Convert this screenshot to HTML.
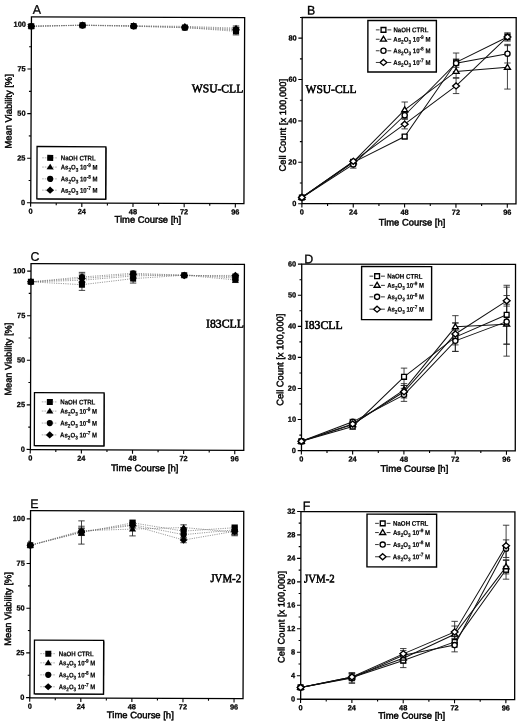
<!DOCTYPE html>
<html lang="en">
<head>
<meta charset="utf-8">
<title>Figure</title>
<style>
html,body{margin:0;padding:0;background:#fff;}
body{width:520px;height:725px;overflow:hidden;}
svg{display:block;filter:blur(0.3px);}
</style>
</head>
<body>
<svg width="520" height="725" viewBox="0 0 520 725">
<rect x="0" y="0" width="520" height="725" fill="#fff"/>
<g transform="rotate(0.22 137.7 110.25)">
<rect x="31.1" y="17.2" width="213.2" height="186.1" fill="none" stroke="#000" stroke-width="1.3"/>
<line x1="31" y1="203.3" x2="31" y2="207.1" stroke="#000" stroke-width="1.1"/>
<text x="31" y="214.2" text-anchor="middle" font-family='"Liberation Sans", sans-serif' font-size="7.4" font-weight="bold" fill="#000" stroke="#000" stroke-width="0.25">0</text>
<line x1="56.59" y1="203.3" x2="56.59" y2="205.5" stroke="#000" stroke-width="1.1"/>
<line x1="82.17" y1="203.3" x2="82.17" y2="207.1" stroke="#000" stroke-width="1.1"/>
<text x="82.17" y="214.2" text-anchor="middle" font-family='"Liberation Sans", sans-serif' font-size="7.4" font-weight="bold" fill="#000" stroke="#000" stroke-width="0.25">24</text>
<line x1="107.76" y1="203.3" x2="107.76" y2="205.5" stroke="#000" stroke-width="1.1"/>
<line x1="133.35" y1="203.3" x2="133.35" y2="207.1" stroke="#000" stroke-width="1.1"/>
<text x="133.35" y="214.2" text-anchor="middle" font-family='"Liberation Sans", sans-serif' font-size="7.4" font-weight="bold" fill="#000" stroke="#000" stroke-width="0.25">48</text>
<line x1="158.94" y1="203.3" x2="158.94" y2="205.5" stroke="#000" stroke-width="1.1"/>
<line x1="184.53" y1="203.3" x2="184.53" y2="207.1" stroke="#000" stroke-width="1.1"/>
<text x="184.53" y="214.2" text-anchor="middle" font-family='"Liberation Sans", sans-serif' font-size="7.4" font-weight="bold" fill="#000" stroke="#000" stroke-width="0.25">72</text>
<line x1="210.11" y1="203.3" x2="210.11" y2="205.5" stroke="#000" stroke-width="1.1"/>
<line x1="235.7" y1="203.3" x2="235.7" y2="207.1" stroke="#000" stroke-width="1.1"/>
<text x="235.7" y="214.2" text-anchor="middle" font-family='"Liberation Sans", sans-serif' font-size="7.4" font-weight="bold" fill="#000" stroke="#000" stroke-width="0.25">96</text>
<line x1="27.3" y1="203.2" x2="31.1" y2="203.2" stroke="#000" stroke-width="1.1"/>
<text x="25.6" y="205.45" text-anchor="end" font-family='"Liberation Sans", sans-serif' font-size="7.4" font-weight="bold" fill="#000" stroke="#000" stroke-width="0.25">0</text>
<line x1="28.9" y1="180.91" x2="31.1" y2="180.91" stroke="#000" stroke-width="1.1"/>
<line x1="27.3" y1="158.62" x2="31.1" y2="158.62" stroke="#000" stroke-width="1.1"/>
<text x="25.6" y="160.88" text-anchor="end" font-family='"Liberation Sans", sans-serif' font-size="7.4" font-weight="bold" fill="#000" stroke="#000" stroke-width="0.25">25</text>
<line x1="28.9" y1="136.34" x2="31.1" y2="136.34" stroke="#000" stroke-width="1.1"/>
<line x1="27.3" y1="114.05" x2="31.1" y2="114.05" stroke="#000" stroke-width="1.1"/>
<text x="25.6" y="116.3" text-anchor="end" font-family='"Liberation Sans", sans-serif' font-size="7.4" font-weight="bold" fill="#000" stroke="#000" stroke-width="0.25">50</text>
<line x1="28.9" y1="91.76" x2="31.1" y2="91.76" stroke="#000" stroke-width="1.1"/>
<line x1="27.3" y1="69.47" x2="31.1" y2="69.47" stroke="#000" stroke-width="1.1"/>
<text x="25.6" y="71.72" text-anchor="end" font-family='"Liberation Sans", sans-serif' font-size="7.4" font-weight="bold" fill="#000" stroke="#000" stroke-width="0.25">75</text>
<line x1="28.9" y1="47.19" x2="31.1" y2="47.19" stroke="#000" stroke-width="1.1"/>
<line x1="27.3" y1="24.9" x2="31.1" y2="24.9" stroke="#000" stroke-width="1.1"/>
<text x="25.6" y="27.15" text-anchor="end" font-family='"Liberation Sans", sans-serif' font-size="7.4" font-weight="bold" fill="#000" stroke="#000" stroke-width="0.25">100</text>
<text x="115" y="222.7" textLength="66.6" lengthAdjust="spacingAndGlyphs" font-family='"Liberation Sans", sans-serif' font-size="9.4" fill="#000" stroke="#000" stroke-width="0.45">Time Course [h]</text>
<text transform="translate(11.7,149) rotate(-90)" textLength="74.3" lengthAdjust="spacingAndGlyphs" font-family='"Liberation Sans", sans-serif' font-size="9.4" fill="#000" stroke="#000" stroke-width="0.45">Mean Viability [%]</text>
<text x="32.4" y="14.2" font-family='"Liberation Sans", sans-serif' font-size="12.4" fill="#000" stroke="#000" stroke-width="0.3">A</text>
<text x="191.7" y="92.1" textLength="51.5" lengthAdjust="spacingAndGlyphs" font-family='"Liberation Serif", serif' font-size="11.8" fill="#000" stroke="#000" stroke-width="0.55" stroke-linejoin="round">WSU-CLL</text>
<polyline points="31,26.68 82.17,25.43 133.35,26.15 184.53,27.4 235.7,30.96" fill="none" stroke="#707070" stroke-width="0.75" stroke-dasharray="1.1 1.2"/>
<polyline points="31,26.68 82.17,25.26 133.35,25.79 184.53,26.15 235.7,27.75" fill="none" stroke="#707070" stroke-width="0.75" stroke-dasharray="1.1 1.2"/>
<polyline points="31,26.68 82.17,25.61 133.35,26.33 184.53,27.57 235.7,29.71" fill="none" stroke="#707070" stroke-width="0.75" stroke-dasharray="1.1 1.2"/>
<polyline points="31,26.68 82.17,25.43 133.35,25.97 184.53,26.86 235.7,28.82" fill="none" stroke="#707070" stroke-width="0.75" stroke-dasharray="1.1 1.2"/>
<path d="M235.7 27.4V34.53M232.5 27.4H238.9M232.5 34.53H238.9" fill="none" stroke="#222" stroke-width="0.85"/>
<path d="M235.7 25.61V29.89M232.5 25.61H238.9M232.5 29.89H238.9" fill="none" stroke="#222" stroke-width="0.85"/>
<path d="M235.7 27.04V32.39M232.5 27.04H238.9M232.5 32.39H238.9" fill="none" stroke="#222" stroke-width="0.85"/>
<path d="M235.7 27.04V30.61M232.5 27.04H238.9M232.5 30.61H238.9" fill="none" stroke="#222" stroke-width="0.85"/>
<rect x="28" y="23.68" width="6" height="6" fill="#000" stroke="#000" stroke-width="0"/>
<rect x="79.17" y="22.43" width="6" height="6" fill="#000" stroke="#000" stroke-width="0"/>
<rect x="130.35" y="23.15" width="6" height="6" fill="#000" stroke="#000" stroke-width="0"/>
<rect x="181.53" y="24.4" width="6" height="6" fill="#000" stroke="#000" stroke-width="0"/>
<rect x="232.7" y="27.96" width="6" height="6" fill="#000" stroke="#000" stroke-width="0"/>
<polygon points="31,23.38 34.6,28.98 27.4,28.98" fill="#000" stroke="#000" stroke-width="0"/>
<polygon points="82.17,21.96 85.77,27.56 78.58,27.56" fill="#000" stroke="#000" stroke-width="0"/>
<polygon points="133.35,22.49 136.95,28.09 129.75,28.09" fill="#000" stroke="#000" stroke-width="0"/>
<polygon points="184.53,22.85 188.12,28.45 180.93,28.45" fill="#000" stroke="#000" stroke-width="0"/>
<polygon points="235.7,24.45 239.3,30.05 232.1,30.05" fill="#000" stroke="#000" stroke-width="0"/>
<circle cx="31" cy="26.68" r="3.1" fill="#000" stroke="#000" stroke-width="0"/>
<circle cx="82.17" cy="25.61" r="3.1" fill="#000" stroke="#000" stroke-width="0"/>
<circle cx="133.35" cy="26.33" r="3.1" fill="#000" stroke="#000" stroke-width="0"/>
<circle cx="184.53" cy="27.57" r="3.1" fill="#000" stroke="#000" stroke-width="0"/>
<circle cx="235.7" cy="29.71" r="3.1" fill="#000" stroke="#000" stroke-width="0"/>
<polygon points="31,23.08 34.9,26.68 31,30.28 27.1,26.68" fill="#000" stroke="#000" stroke-width="0"/>
<polygon points="82.17,21.83 86.08,25.43 82.17,29.03 78.27,25.43" fill="#000" stroke="#000" stroke-width="0"/>
<polygon points="133.35,22.37 137.25,25.97 133.35,29.57 129.45,25.97" fill="#000" stroke="#000" stroke-width="0"/>
<polygon points="184.53,23.26 188.43,26.86 184.53,30.46 180.62,26.86" fill="#000" stroke="#000" stroke-width="0"/>
<polygon points="235.7,25.22 239.6,28.82 235.7,32.42 231.8,28.82" fill="#000" stroke="#000" stroke-width="0"/>
<rect x="37.9" y="147.6" width="68.8" height="52.3" fill="#000"/>
<rect x="37.2" y="146.9" width="68.8" height="52.3" fill="#fff" stroke="#000" stroke-width="1.3"/>
<line x1="42.4" y1="158.2" x2="57.9" y2="158.2" stroke="#999" stroke-width="0.8" stroke-dasharray="1.6 1"/>
<rect x="47.4" y="155.2" width="6" height="6" fill="#000" stroke="#000" stroke-width="0"/>
<text x="61" y="160.65" textLength="34.9" lengthAdjust="spacingAndGlyphs" font-family='"Liberation Sans", sans-serif' font-size="6.8" font-weight="bold" fill="#000" stroke="#000" stroke-width="0.15">NaOH CTRL</text>
<line x1="42.4" y1="167.4" x2="57.9" y2="167.4" stroke="#999" stroke-width="0.8" stroke-dasharray="1.6 1"/>
<polygon points="50.4,164.1 54,169.7 46.8,169.7" fill="#000" stroke="#000" stroke-width="0"/>
<text x="61" y="169.85" textLength="36.8" lengthAdjust="spacingAndGlyphs" font-family='"Liberation Sans", sans-serif' font-size="6.8" font-weight="bold" fill="#000" stroke="#000" stroke-width="0.15">As<tspan font-size="5.3" dy="2.04">2</tspan><tspan dy="-2.04">O</tspan><tspan font-size="5.3" dy="2.04">3</tspan><tspan dy="-2.04"> 10</tspan><tspan font-size="5.3" dy="-2.72">-9</tspan><tspan dy="2.72"> M</tspan></text>
<line x1="42.4" y1="179.2" x2="57.9" y2="179.2" stroke="#999" stroke-width="0.8" stroke-dasharray="1.6 1"/>
<circle cx="50.4" cy="179.2" r="3.1" fill="#000" stroke="#000" stroke-width="0"/>
<text x="61" y="181.65" textLength="36.8" lengthAdjust="spacingAndGlyphs" font-family='"Liberation Sans", sans-serif' font-size="6.8" font-weight="bold" fill="#000" stroke="#000" stroke-width="0.15">As<tspan font-size="5.3" dy="2.04">2</tspan><tspan dy="-2.04">O</tspan><tspan font-size="5.3" dy="2.04">3</tspan><tspan dy="-2.04"> 10</tspan><tspan font-size="5.3" dy="-2.72">-8</tspan><tspan dy="2.72"> M</tspan></text>
<line x1="42.4" y1="190.5" x2="57.9" y2="190.5" stroke="#999" stroke-width="0.8" stroke-dasharray="1.6 1"/>
<polygon points="50.4,186.9 54.3,190.5 50.4,194.1 46.5,190.5" fill="#000" stroke="#000" stroke-width="0"/>
<text x="61" y="192.95" textLength="36.8" lengthAdjust="spacingAndGlyphs" font-family='"Liberation Sans", sans-serif' font-size="6.8" font-weight="bold" fill="#000" stroke="#000" stroke-width="0.15">As<tspan font-size="5.3" dy="2.04">2</tspan><tspan dy="-2.04">O</tspan><tspan font-size="5.3" dy="2.04">3</tspan><tspan dy="-2.04"> 10</tspan><tspan font-size="5.3" dy="-2.72">-7</tspan><tspan dy="2.72"> M</tspan></text>
</g>
<g transform="rotate(0.06 409.1 110.7)">
<rect x="302.1" y="17.6" width="214" height="186.2" fill="none" stroke="#000" stroke-width="1.3"/>
<line x1="302" y1="203.8" x2="302" y2="207.6" stroke="#000" stroke-width="1.1"/>
<text x="302" y="214.7" text-anchor="middle" font-family='"Liberation Sans", sans-serif' font-size="7.4" font-weight="bold" fill="#000" stroke="#000" stroke-width="0.25">0</text>
<line x1="327.68" y1="203.8" x2="327.68" y2="206" stroke="#000" stroke-width="1.1"/>
<line x1="353.35" y1="203.8" x2="353.35" y2="207.6" stroke="#000" stroke-width="1.1"/>
<text x="353.35" y="214.7" text-anchor="middle" font-family='"Liberation Sans", sans-serif' font-size="7.4" font-weight="bold" fill="#000" stroke="#000" stroke-width="0.25">24</text>
<line x1="379.02" y1="203.8" x2="379.02" y2="206" stroke="#000" stroke-width="1.1"/>
<line x1="404.7" y1="203.8" x2="404.7" y2="207.6" stroke="#000" stroke-width="1.1"/>
<text x="404.7" y="214.7" text-anchor="middle" font-family='"Liberation Sans", sans-serif' font-size="7.4" font-weight="bold" fill="#000" stroke="#000" stroke-width="0.25">48</text>
<line x1="430.38" y1="203.8" x2="430.38" y2="206" stroke="#000" stroke-width="1.1"/>
<line x1="456.05" y1="203.8" x2="456.05" y2="207.6" stroke="#000" stroke-width="1.1"/>
<text x="456.05" y="214.7" text-anchor="middle" font-family='"Liberation Sans", sans-serif' font-size="7.4" font-weight="bold" fill="#000" stroke="#000" stroke-width="0.25">72</text>
<line x1="481.72" y1="203.8" x2="481.72" y2="206" stroke="#000" stroke-width="1.1"/>
<line x1="507.4" y1="203.8" x2="507.4" y2="207.6" stroke="#000" stroke-width="1.1"/>
<text x="507.4" y="214.7" text-anchor="middle" font-family='"Liberation Sans", sans-serif' font-size="7.4" font-weight="bold" fill="#000" stroke="#000" stroke-width="0.25">96</text>
<line x1="298.3" y1="203.8" x2="302.1" y2="203.8" stroke="#000" stroke-width="1.1"/>
<text x="296.6" y="206.05" text-anchor="end" font-family='"Liberation Sans", sans-serif' font-size="7.4" font-weight="bold" fill="#000" stroke="#000" stroke-width="0.25">0</text>
<line x1="299.9" y1="183.11" x2="302.1" y2="183.11" stroke="#000" stroke-width="1.1"/>
<line x1="298.3" y1="162.42" x2="302.1" y2="162.42" stroke="#000" stroke-width="1.1"/>
<text x="296.6" y="164.67" text-anchor="end" font-family='"Liberation Sans", sans-serif' font-size="7.4" font-weight="bold" fill="#000" stroke="#000" stroke-width="0.25">20</text>
<line x1="299.9" y1="141.73" x2="302.1" y2="141.73" stroke="#000" stroke-width="1.1"/>
<line x1="298.3" y1="121.04" x2="302.1" y2="121.04" stroke="#000" stroke-width="1.1"/>
<text x="296.6" y="123.29" text-anchor="end" font-family='"Liberation Sans", sans-serif' font-size="7.4" font-weight="bold" fill="#000" stroke="#000" stroke-width="0.25">40</text>
<line x1="299.9" y1="100.35" x2="302.1" y2="100.35" stroke="#000" stroke-width="1.1"/>
<line x1="298.3" y1="79.66" x2="302.1" y2="79.66" stroke="#000" stroke-width="1.1"/>
<text x="296.6" y="81.91" text-anchor="end" font-family='"Liberation Sans", sans-serif' font-size="7.4" font-weight="bold" fill="#000" stroke="#000" stroke-width="0.25">60</text>
<line x1="299.9" y1="58.97" x2="302.1" y2="58.97" stroke="#000" stroke-width="1.1"/>
<line x1="298.3" y1="38.28" x2="302.1" y2="38.28" stroke="#000" stroke-width="1.1"/>
<text x="296.6" y="40.53" text-anchor="end" font-family='"Liberation Sans", sans-serif' font-size="7.4" font-weight="bold" fill="#000" stroke="#000" stroke-width="0.25">80</text>
<line x1="299.9" y1="17.59" x2="302.1" y2="17.59" stroke="#000" stroke-width="1.1"/>
<text x="378.9" y="225.6" textLength="66.5" lengthAdjust="spacingAndGlyphs" font-family='"Liberation Sans", sans-serif' font-size="9.4" fill="#000" stroke="#000" stroke-width="0.45">Time Course [h]</text>
<text transform="translate(285.9,171.6) rotate(-90)" textLength="92.6" lengthAdjust="spacingAndGlyphs" font-family='"Liberation Sans", sans-serif' font-size="9.4" fill="#000" stroke="#000" stroke-width="0.45">Cell Count [x 100,000]</text>
<text x="306.8" y="14.6" font-family='"Liberation Sans", sans-serif' font-size="12.4" fill="#000" stroke="#000" stroke-width="0.3">B</text>
<text x="305.6" y="93" textLength="51" lengthAdjust="spacingAndGlyphs" font-family='"Liberation Serif", serif' font-size="11.8" fill="#000" stroke="#000" stroke-width="0.55" stroke-linejoin="round">WSU-CLL</text>
<polyline points="302,197.59 353.35,162.42 404.7,136.56 456.05,62.28 507.4,36.83" fill="none" stroke="#111" stroke-width="1.0"/>
<polyline points="302,197.59 353.35,161.8 404.7,109.87 456.05,71.38 507.4,67.25" fill="none" stroke="#111" stroke-width="1.0"/>
<polyline points="302,197.59 353.35,164.49 404.7,115.25 456.05,63.11 507.4,53.59" fill="none" stroke="#111" stroke-width="1.0"/>
<polyline points="302,197.59 353.35,161.39 404.7,124.14 456.05,85.87 507.4,36.83" fill="none" stroke="#111" stroke-width="1.0"/>
<path d="M353.35 159.94V164.9M350.15 159.94H356.55M350.15 164.9H356.55" fill="none" stroke="#222" stroke-width="0.85"/>
<path d="M404.7 134.9V138.21M401.5 134.9H407.9M401.5 138.21H407.9" fill="none" stroke="#222" stroke-width="0.85"/>
<path d="M456.05 52.97V71.59M452.85 52.97H459.25M452.85 71.59H459.25" fill="none" stroke="#222" stroke-width="0.85"/>
<path d="M507.4 32.69V40.97M504.2 32.69H510.6M504.2 40.97H510.6" fill="none" stroke="#222" stroke-width="0.85"/>
<path d="M353.35 159.73V163.87M350.15 159.73H356.55M350.15 163.87H356.55" fill="none" stroke="#222" stroke-width="0.85"/>
<path d="M404.7 102.01V117.73M401.5 102.01H407.9M401.5 117.73H407.9" fill="none" stroke="#222" stroke-width="0.85"/>
<path d="M456.05 65.18V77.59M452.85 65.18H459.25M452.85 77.59H459.25" fill="none" stroke="#222" stroke-width="0.85"/>
<path d="M507.4 45.52V88.97M504.2 45.52H510.6M504.2 88.97H510.6" fill="none" stroke="#222" stroke-width="0.85"/>
<path d="M353.35 160.76V168.21M350.15 160.76H356.55M350.15 168.21H356.55" fill="none" stroke="#222" stroke-width="0.85"/>
<path d="M404.7 112.14V118.35M401.5 112.14H407.9M401.5 118.35H407.9" fill="none" stroke="#222" stroke-width="0.85"/>
<path d="M456.05 58.97V67.25M452.85 58.97H459.25M452.85 67.25H459.25" fill="none" stroke="#222" stroke-width="0.85"/>
<path d="M507.4 44.28V62.9M504.2 44.28H510.6M504.2 62.9H510.6" fill="none" stroke="#222" stroke-width="0.85"/>
<path d="M353.35 159.32V163.45M350.15 159.32H356.55M350.15 163.45H356.55" fill="none" stroke="#222" stroke-width="0.85"/>
<path d="M404.7 119.38V128.9M401.5 119.38H407.9M401.5 128.9H407.9" fill="none" stroke="#222" stroke-width="0.85"/>
<path d="M456.05 78.21V93.52M452.85 78.21H459.25M452.85 93.52H459.25" fill="none" stroke="#222" stroke-width="0.85"/>
<path d="M507.4 33.73V39.94M504.2 33.73H510.6M504.2 39.94H510.6" fill="none" stroke="#222" stroke-width="0.85"/>
<rect x="299.6" y="195.19" width="4.8" height="4.8" fill="#fff" stroke="#000" stroke-width="1.35"/>
<rect x="350.95" y="160.02" width="4.8" height="4.8" fill="#fff" stroke="#000" stroke-width="1.35"/>
<rect x="402.3" y="134.16" width="4.8" height="4.8" fill="#fff" stroke="#000" stroke-width="1.35"/>
<rect x="453.65" y="59.88" width="4.8" height="4.8" fill="#fff" stroke="#000" stroke-width="1.35"/>
<rect x="505" y="34.43" width="4.8" height="4.8" fill="#fff" stroke="#000" stroke-width="1.35"/>
<polygon points="302,194.59 305,199.49 299,199.49" fill="#fff" stroke="#000" stroke-width="1.35"/>
<polygon points="353.35,158.8 356.35,163.7 350.35,163.7" fill="#fff" stroke="#000" stroke-width="1.35"/>
<polygon points="404.7,106.87 407.7,111.77 401.7,111.77" fill="#fff" stroke="#000" stroke-width="1.35"/>
<polygon points="456.05,68.38 459.05,73.28 453.05,73.28" fill="#fff" stroke="#000" stroke-width="1.35"/>
<polygon points="507.4,64.25 510.4,69.15 504.4,69.15" fill="#fff" stroke="#000" stroke-width="1.35"/>
<circle cx="302" cy="197.59" r="2.6" fill="#fff" stroke="#000" stroke-width="1.35"/>
<circle cx="353.35" cy="164.49" r="2.6" fill="#fff" stroke="#000" stroke-width="1.35"/>
<circle cx="404.7" cy="115.25" r="2.6" fill="#fff" stroke="#000" stroke-width="1.35"/>
<circle cx="456.05" cy="63.11" r="2.6" fill="#fff" stroke="#000" stroke-width="1.35"/>
<circle cx="507.4" cy="53.59" r="2.6" fill="#fff" stroke="#000" stroke-width="1.35"/>
<polygon points="302,194.59 305.4,197.59 302,200.59 298.6,197.59" fill="#fff" stroke="#000" stroke-width="1.35"/>
<polygon points="353.35,158.39 356.75,161.39 353.35,164.39 349.95,161.39" fill="#fff" stroke="#000" stroke-width="1.35"/>
<polygon points="404.7,121.14 408.1,124.14 404.7,127.14 401.3,124.14" fill="#fff" stroke="#000" stroke-width="1.35"/>
<polygon points="456.05,82.87 459.45,85.87 456.05,88.87 452.65,85.87" fill="#fff" stroke="#000" stroke-width="1.35"/>
<polygon points="507.4,33.83 510.8,36.83 507.4,39.83 504,36.83" fill="#fff" stroke="#000" stroke-width="1.35"/>
<rect x="367.8" y="20.5" width="68.5" height="51.5" fill="#fff" stroke="#000" stroke-width="1.4"/>
<path d="M375.8 29.9H379.5M387.3 29.9H391.2" stroke="#222" stroke-width="0.9" fill="none"/>
<rect x="381" y="27.5" width="4.8" height="4.8" fill="#fff" stroke="#000" stroke-width="1.35"/>
<text x="393.3" y="32.35" textLength="35.1" lengthAdjust="spacingAndGlyphs" font-family='"Liberation Sans", sans-serif' font-size="6.8" font-weight="bold" fill="#000" stroke="#000" stroke-width="0.15">NaOH CTRL</text>
<path d="M375.8 39.3H379.5M387.3 39.3H391.2" stroke="#222" stroke-width="0.9" fill="none"/>
<polygon points="383.4,36.3 386.4,41.2 380.4,41.2" fill="#fff" stroke="#000" stroke-width="1.35"/>
<text x="393.3" y="41.75" textLength="37.1" lengthAdjust="spacingAndGlyphs" font-family='"Liberation Sans", sans-serif' font-size="6.8" font-weight="bold" fill="#000" stroke="#000" stroke-width="0.15">As<tspan font-size="5.3" dy="2.04">2</tspan><tspan dy="-2.04">O</tspan><tspan font-size="5.3" dy="2.04">3</tspan><tspan dy="-2.04"> 10</tspan><tspan font-size="5.3" dy="-2.72">-9</tspan><tspan dy="2.72"> M</tspan></text>
<path d="M375.8 50.8H379.5M387.3 50.8H391.2" stroke="#222" stroke-width="0.9" fill="none"/>
<circle cx="383.4" cy="50.8" r="2.6" fill="#fff" stroke="#000" stroke-width="1.35"/>
<text x="393.3" y="53.25" textLength="37.1" lengthAdjust="spacingAndGlyphs" font-family='"Liberation Sans", sans-serif' font-size="6.8" font-weight="bold" fill="#000" stroke="#000" stroke-width="0.15">As<tspan font-size="5.3" dy="2.04">2</tspan><tspan dy="-2.04">O</tspan><tspan font-size="5.3" dy="2.04">3</tspan><tspan dy="-2.04"> 10</tspan><tspan font-size="5.3" dy="-2.72">-8</tspan><tspan dy="2.72"> M</tspan></text>
<path d="M375.8 62.5H379.5M387.3 62.5H391.2" stroke="#222" stroke-width="0.9" fill="none"/>
<polygon points="383.4,59.5 386.8,62.5 383.4,65.5 380,62.5" fill="#fff" stroke="#000" stroke-width="1.35"/>
<text x="393.3" y="64.95" textLength="37.1" lengthAdjust="spacingAndGlyphs" font-family='"Liberation Sans", sans-serif' font-size="6.8" font-weight="bold" fill="#000" stroke="#000" stroke-width="0.15">As<tspan font-size="5.3" dy="2.04">2</tspan><tspan dy="-2.04">O</tspan><tspan font-size="5.3" dy="2.04">3</tspan><tspan dy="-2.04"> 10</tspan><tspan font-size="5.3" dy="-2.72">-7</tspan><tspan dy="2.72"> M</tspan></text>
</g>
<g transform="rotate(0.2 137.4 356.95)">
<rect x="30.7" y="263.9" width="213.4" height="186.1" fill="none" stroke="#000" stroke-width="1.3"/>
<line x1="30.6" y1="450" x2="30.6" y2="453.8" stroke="#000" stroke-width="1.1"/>
<text x="30.6" y="460.9" text-anchor="middle" font-family='"Liberation Sans", sans-serif' font-size="7.4" font-weight="bold" fill="#000" stroke="#000" stroke-width="0.25">0</text>
<line x1="56.16" y1="450" x2="56.16" y2="452.2" stroke="#000" stroke-width="1.1"/>
<line x1="81.72" y1="450" x2="81.72" y2="453.8" stroke="#000" stroke-width="1.1"/>
<text x="81.72" y="460.9" text-anchor="middle" font-family='"Liberation Sans", sans-serif' font-size="7.4" font-weight="bold" fill="#000" stroke="#000" stroke-width="0.25">24</text>
<line x1="107.29" y1="450" x2="107.29" y2="452.2" stroke="#000" stroke-width="1.1"/>
<line x1="132.85" y1="450" x2="132.85" y2="453.8" stroke="#000" stroke-width="1.1"/>
<text x="132.85" y="460.9" text-anchor="middle" font-family='"Liberation Sans", sans-serif' font-size="7.4" font-weight="bold" fill="#000" stroke="#000" stroke-width="0.25">48</text>
<line x1="158.41" y1="450" x2="158.41" y2="452.2" stroke="#000" stroke-width="1.1"/>
<line x1="183.97" y1="450" x2="183.97" y2="453.8" stroke="#000" stroke-width="1.1"/>
<text x="183.97" y="460.9" text-anchor="middle" font-family='"Liberation Sans", sans-serif' font-size="7.4" font-weight="bold" fill="#000" stroke="#000" stroke-width="0.25">72</text>
<line x1="209.54" y1="450" x2="209.54" y2="452.2" stroke="#000" stroke-width="1.1"/>
<line x1="235.1" y1="450" x2="235.1" y2="453.8" stroke="#000" stroke-width="1.1"/>
<text x="235.1" y="460.9" text-anchor="middle" font-family='"Liberation Sans", sans-serif' font-size="7.4" font-weight="bold" fill="#000" stroke="#000" stroke-width="0.25">96</text>
<line x1="26.9" y1="449.8" x2="30.7" y2="449.8" stroke="#000" stroke-width="1.1"/>
<text x="25.2" y="452.05" text-anchor="end" font-family='"Liberation Sans", sans-serif' font-size="7.4" font-weight="bold" fill="#000" stroke="#000" stroke-width="0.25">0</text>
<line x1="28.5" y1="427.51" x2="30.7" y2="427.51" stroke="#000" stroke-width="1.1"/>
<line x1="26.9" y1="405.23" x2="30.7" y2="405.23" stroke="#000" stroke-width="1.1"/>
<text x="25.2" y="407.48" text-anchor="end" font-family='"Liberation Sans", sans-serif' font-size="7.4" font-weight="bold" fill="#000" stroke="#000" stroke-width="0.25">25</text>
<line x1="28.5" y1="382.94" x2="30.7" y2="382.94" stroke="#000" stroke-width="1.1"/>
<line x1="26.9" y1="360.65" x2="30.7" y2="360.65" stroke="#000" stroke-width="1.1"/>
<text x="25.2" y="362.9" text-anchor="end" font-family='"Liberation Sans", sans-serif' font-size="7.4" font-weight="bold" fill="#000" stroke="#000" stroke-width="0.25">50</text>
<line x1="28.5" y1="338.36" x2="30.7" y2="338.36" stroke="#000" stroke-width="1.1"/>
<line x1="26.9" y1="316.08" x2="30.7" y2="316.08" stroke="#000" stroke-width="1.1"/>
<text x="25.2" y="318.33" text-anchor="end" font-family='"Liberation Sans", sans-serif' font-size="7.4" font-weight="bold" fill="#000" stroke="#000" stroke-width="0.25">75</text>
<line x1="28.5" y1="293.79" x2="30.7" y2="293.79" stroke="#000" stroke-width="1.1"/>
<line x1="26.9" y1="271.5" x2="30.7" y2="271.5" stroke="#000" stroke-width="1.1"/>
<text x="25.2" y="273.75" text-anchor="end" font-family='"Liberation Sans", sans-serif' font-size="7.4" font-weight="bold" fill="#000" stroke="#000" stroke-width="0.25">100</text>
<text x="111.3" y="471.2" textLength="67.5" lengthAdjust="spacingAndGlyphs" font-family='"Liberation Sans", sans-serif' font-size="9.4" fill="#000" stroke="#000" stroke-width="0.45">Time Course [h]</text>
<text transform="translate(11.5,396) rotate(-90)" textLength="72.8" lengthAdjust="spacingAndGlyphs" font-family='"Liberation Sans", sans-serif' font-size="9.4" fill="#000" stroke="#000" stroke-width="0.45">Mean Viability [%]</text>
<text x="30.2" y="261.1" font-family='"Liberation Sans", sans-serif' font-size="12.4" fill="#000" stroke="#000" stroke-width="0.3">C</text>
<text x="205.9" y="327.2" textLength="37.9" lengthAdjust="spacingAndGlyphs" font-family='"Liberation Serif", serif' font-size="11.8" fill="#000" stroke="#000" stroke-width="0.55" stroke-linejoin="round">I83CLL</text>
<polyline points="30.6,282.2 81.72,284.87 132.85,278.63 183.97,275.07 235.1,279.52" fill="none" stroke="#707070" stroke-width="0.75" stroke-dasharray="1.1 1.2"/>
<polyline points="30.6,282.2 81.72,280.42 132.85,275.96 183.97,274.71 235.1,277.74" fill="none" stroke="#707070" stroke-width="0.75" stroke-dasharray="1.1 1.2"/>
<polyline points="30.6,282.2 81.72,277.21 132.85,273.28 183.97,275.07 235.1,276.31" fill="none" stroke="#707070" stroke-width="0.75" stroke-dasharray="1.1 1.2"/>
<polyline points="30.6,282.2 81.72,278.63 132.85,274.53 183.97,275.42 235.1,275.07" fill="none" stroke="#707070" stroke-width="0.75" stroke-dasharray="1.1 1.2"/>
<path d="M81.72 279.17V290.58M78.52 279.17H84.92M78.52 290.58H84.92" fill="none" stroke="#222" stroke-width="0.85"/>
<path d="M132.85 274.17V283.09M129.65 274.17H136.05M129.65 283.09H136.05" fill="none" stroke="#222" stroke-width="0.85"/>
<path d="M235.1 276.85V282.2M231.9 276.85H238.3M231.9 282.2H238.3" fill="none" stroke="#222" stroke-width="0.85"/>
<path d="M81.72 275.96V284.87M78.52 275.96H84.92M78.52 284.87H84.92" fill="none" stroke="#222" stroke-width="0.85"/>
<path d="M132.85 273.28V278.63M129.65 273.28H136.05M129.65 278.63H136.05" fill="none" stroke="#222" stroke-width="0.85"/>
<path d="M235.1 275.96V279.52M231.9 275.96H238.3M231.9 279.52H238.3" fill="none" stroke="#222" stroke-width="0.85"/>
<path d="M81.72 272.57V281.84M78.52 272.57H84.92M78.52 281.84H84.92" fill="none" stroke="#222" stroke-width="0.85"/>
<path d="M132.85 271.14V275.42M129.65 271.14H136.05M129.65 275.42H136.05" fill="none" stroke="#222" stroke-width="0.85"/>
<path d="M235.1 274.53V278.1M231.9 274.53H238.3M231.9 278.1H238.3" fill="none" stroke="#222" stroke-width="0.85"/>
<path d="M81.72 274.17V283.09M78.52 274.17H84.92M78.52 283.09H84.92" fill="none" stroke="#222" stroke-width="0.85"/>
<path d="M132.85 271.86V277.21M129.65 271.86H136.05M129.65 277.21H136.05" fill="none" stroke="#222" stroke-width="0.85"/>
<path d="M235.1 273.64V276.49M231.9 273.64H238.3M231.9 276.49H238.3" fill="none" stroke="#222" stroke-width="0.85"/>
<rect x="27.6" y="279.2" width="6" height="6" fill="#000" stroke="#000" stroke-width="0"/>
<rect x="78.72" y="281.87" width="6" height="6" fill="#000" stroke="#000" stroke-width="0"/>
<rect x="129.85" y="275.63" width="6" height="6" fill="#000" stroke="#000" stroke-width="0"/>
<rect x="180.97" y="272.07" width="6" height="6" fill="#000" stroke="#000" stroke-width="0"/>
<rect x="232.1" y="276.52" width="6" height="6" fill="#000" stroke="#000" stroke-width="0"/>
<polygon points="30.6,278.9 34.2,284.5 27,284.5" fill="#000" stroke="#000" stroke-width="0"/>
<polygon points="81.72,277.12 85.32,282.72 78.12,282.72" fill="#000" stroke="#000" stroke-width="0"/>
<polygon points="132.85,272.66 136.45,278.26 129.25,278.26" fill="#000" stroke="#000" stroke-width="0"/>
<polygon points="183.97,271.41 187.57,277.01 180.38,277.01" fill="#000" stroke="#000" stroke-width="0"/>
<polygon points="235.1,274.44 238.7,280.04 231.5,280.04" fill="#000" stroke="#000" stroke-width="0"/>
<circle cx="30.6" cy="282.2" r="3.1" fill="#000" stroke="#000" stroke-width="0"/>
<circle cx="81.72" cy="277.21" r="3.1" fill="#000" stroke="#000" stroke-width="0"/>
<circle cx="132.85" cy="273.28" r="3.1" fill="#000" stroke="#000" stroke-width="0"/>
<circle cx="183.97" cy="275.07" r="3.1" fill="#000" stroke="#000" stroke-width="0"/>
<circle cx="235.1" cy="276.31" r="3.1" fill="#000" stroke="#000" stroke-width="0"/>
<polygon points="30.6,278.6 34.5,282.2 30.6,285.8 26.7,282.2" fill="#000" stroke="#000" stroke-width="0"/>
<polygon points="81.72,275.03 85.62,278.63 81.72,282.23 77.82,278.63" fill="#000" stroke="#000" stroke-width="0"/>
<polygon points="132.85,270.93 136.75,274.53 132.85,278.13 128.95,274.53" fill="#000" stroke="#000" stroke-width="0"/>
<polygon points="183.97,271.82 187.88,275.42 183.97,279.02 180.07,275.42" fill="#000" stroke="#000" stroke-width="0"/>
<polygon points="235.1,271.47 239,275.07 235.1,278.67 231.2,275.07" fill="#000" stroke="#000" stroke-width="0"/>
<rect x="35.3" y="393.6" width="69.6" height="53.1" fill="#000"/>
<rect x="34.6" y="392.9" width="69.6" height="53.1" fill="#fff" stroke="#000" stroke-width="1.3"/>
<line x1="42" y1="402.2" x2="57.5" y2="402.2" stroke="#999" stroke-width="0.8" stroke-dasharray="1.6 1"/>
<rect x="47" y="399.2" width="6" height="6" fill="#000" stroke="#000" stroke-width="0"/>
<text x="60.4" y="404.65" textLength="35.1" lengthAdjust="spacingAndGlyphs" font-family='"Liberation Sans", sans-serif' font-size="6.8" font-weight="bold" fill="#000" stroke="#000" stroke-width="0.15">NaOH CTRL</text>
<line x1="42" y1="411.4" x2="57.5" y2="411.4" stroke="#999" stroke-width="0.8" stroke-dasharray="1.6 1"/>
<polygon points="50,408.1 53.6,413.7 46.4,413.7" fill="#000" stroke="#000" stroke-width="0"/>
<text x="60.4" y="413.85" textLength="36.9" lengthAdjust="spacingAndGlyphs" font-family='"Liberation Sans", sans-serif' font-size="6.8" font-weight="bold" fill="#000" stroke="#000" stroke-width="0.15">As<tspan font-size="5.3" dy="2.04">2</tspan><tspan dy="-2.04">O</tspan><tspan font-size="5.3" dy="2.04">3</tspan><tspan dy="-2.04"> 10</tspan><tspan font-size="5.3" dy="-2.72">-9</tspan><tspan dy="2.72"> M</tspan></text>
<line x1="42" y1="423.4" x2="57.5" y2="423.4" stroke="#999" stroke-width="0.8" stroke-dasharray="1.6 1"/>
<circle cx="50" cy="423.4" r="3.1" fill="#000" stroke="#000" stroke-width="0"/>
<text x="60.4" y="425.85" textLength="36.9" lengthAdjust="spacingAndGlyphs" font-family='"Liberation Sans", sans-serif' font-size="6.8" font-weight="bold" fill="#000" stroke="#000" stroke-width="0.15">As<tspan font-size="5.3" dy="2.04">2</tspan><tspan dy="-2.04">O</tspan><tspan font-size="5.3" dy="2.04">3</tspan><tspan dy="-2.04"> 10</tspan><tspan font-size="5.3" dy="-2.72">-8</tspan><tspan dy="2.72"> M</tspan></text>
<line x1="42" y1="435.2" x2="57.5" y2="435.2" stroke="#999" stroke-width="0.8" stroke-dasharray="1.6 1"/>
<polygon points="50,431.6 53.9,435.2 50,438.8 46.1,435.2" fill="#000" stroke="#000" stroke-width="0"/>
<text x="60.4" y="437.65" textLength="36.9" lengthAdjust="spacingAndGlyphs" font-family='"Liberation Sans", sans-serif' font-size="6.8" font-weight="bold" fill="#000" stroke="#000" stroke-width="0.15">As<tspan font-size="5.3" dy="2.04">2</tspan><tspan dy="-2.04">O</tspan><tspan font-size="5.3" dy="2.04">3</tspan><tspan dy="-2.04"> 10</tspan><tspan font-size="5.3" dy="-2.72">-7</tspan><tspan dy="2.72"> M</tspan></text>
</g>
<g transform="rotate(0.08 408.5 357.55)">
<rect x="301.6" y="264.3" width="213.8" height="186.5" fill="none" stroke="#000" stroke-width="1.3"/>
<line x1="301.5" y1="450.8" x2="301.5" y2="454.6" stroke="#000" stroke-width="1.1"/>
<text x="301.5" y="461.7" text-anchor="middle" font-family='"Liberation Sans", sans-serif' font-size="7.4" font-weight="bold" fill="#000" stroke="#000" stroke-width="0.25">0</text>
<line x1="327.14" y1="450.8" x2="327.14" y2="453" stroke="#000" stroke-width="1.1"/>
<line x1="352.77" y1="450.8" x2="352.77" y2="454.6" stroke="#000" stroke-width="1.1"/>
<text x="352.77" y="461.7" text-anchor="middle" font-family='"Liberation Sans", sans-serif' font-size="7.4" font-weight="bold" fill="#000" stroke="#000" stroke-width="0.25">24</text>
<line x1="378.41" y1="450.8" x2="378.41" y2="453" stroke="#000" stroke-width="1.1"/>
<line x1="404.05" y1="450.8" x2="404.05" y2="454.6" stroke="#000" stroke-width="1.1"/>
<text x="404.05" y="461.7" text-anchor="middle" font-family='"Liberation Sans", sans-serif' font-size="7.4" font-weight="bold" fill="#000" stroke="#000" stroke-width="0.25">48</text>
<line x1="429.69" y1="450.8" x2="429.69" y2="453" stroke="#000" stroke-width="1.1"/>
<line x1="455.33" y1="450.8" x2="455.33" y2="454.6" stroke="#000" stroke-width="1.1"/>
<text x="455.33" y="461.7" text-anchor="middle" font-family='"Liberation Sans", sans-serif' font-size="7.4" font-weight="bold" fill="#000" stroke="#000" stroke-width="0.25">72</text>
<line x1="480.96" y1="450.8" x2="480.96" y2="453" stroke="#000" stroke-width="1.1"/>
<line x1="506.6" y1="450.8" x2="506.6" y2="454.6" stroke="#000" stroke-width="1.1"/>
<text x="506.6" y="461.7" text-anchor="middle" font-family='"Liberation Sans", sans-serif' font-size="7.4" font-weight="bold" fill="#000" stroke="#000" stroke-width="0.25">96</text>
<line x1="297.8" y1="450.8" x2="301.6" y2="450.8" stroke="#000" stroke-width="1.1"/>
<text x="296.1" y="453.05" text-anchor="end" font-family='"Liberation Sans", sans-serif' font-size="7.4" font-weight="bold" fill="#000" stroke="#000" stroke-width="0.25">0</text>
<line x1="299.4" y1="435.26" x2="301.6" y2="435.26" stroke="#000" stroke-width="1.1"/>
<line x1="297.8" y1="419.72" x2="301.6" y2="419.72" stroke="#000" stroke-width="1.1"/>
<text x="296.1" y="421.97" text-anchor="end" font-family='"Liberation Sans", sans-serif' font-size="7.4" font-weight="bold" fill="#000" stroke="#000" stroke-width="0.25">10</text>
<line x1="299.4" y1="404.18" x2="301.6" y2="404.18" stroke="#000" stroke-width="1.1"/>
<line x1="297.8" y1="388.64" x2="301.6" y2="388.64" stroke="#000" stroke-width="1.1"/>
<text x="296.1" y="390.89" text-anchor="end" font-family='"Liberation Sans", sans-serif' font-size="7.4" font-weight="bold" fill="#000" stroke="#000" stroke-width="0.25">20</text>
<line x1="299.4" y1="373.1" x2="301.6" y2="373.1" stroke="#000" stroke-width="1.1"/>
<line x1="297.8" y1="357.56" x2="301.6" y2="357.56" stroke="#000" stroke-width="1.1"/>
<text x="296.1" y="359.81" text-anchor="end" font-family='"Liberation Sans", sans-serif' font-size="7.4" font-weight="bold" fill="#000" stroke="#000" stroke-width="0.25">30</text>
<line x1="299.4" y1="342.02" x2="301.6" y2="342.02" stroke="#000" stroke-width="1.1"/>
<line x1="297.8" y1="326.48" x2="301.6" y2="326.48" stroke="#000" stroke-width="1.1"/>
<text x="296.1" y="328.73" text-anchor="end" font-family='"Liberation Sans", sans-serif' font-size="7.4" font-weight="bold" fill="#000" stroke="#000" stroke-width="0.25">40</text>
<line x1="299.4" y1="310.94" x2="301.6" y2="310.94" stroke="#000" stroke-width="1.1"/>
<line x1="297.8" y1="295.4" x2="301.6" y2="295.4" stroke="#000" stroke-width="1.1"/>
<text x="296.1" y="297.65" text-anchor="end" font-family='"Liberation Sans", sans-serif' font-size="7.4" font-weight="bold" fill="#000" stroke="#000" stroke-width="0.25">50</text>
<line x1="299.4" y1="279.86" x2="301.6" y2="279.86" stroke="#000" stroke-width="1.1"/>
<line x1="297.8" y1="264.32" x2="301.6" y2="264.32" stroke="#000" stroke-width="1.1"/>
<text x="296.1" y="266.57" text-anchor="end" font-family='"Liberation Sans", sans-serif' font-size="7.4" font-weight="bold" fill="#000" stroke="#000" stroke-width="0.25">60</text>
<text x="380.7" y="471.8" textLength="67.8" lengthAdjust="spacingAndGlyphs" font-family='"Liberation Sans", sans-serif' font-size="9.4" fill="#000" stroke="#000" stroke-width="0.45">Time Course [h]</text>
<text transform="translate(283.3,406) rotate(-90)" textLength="92.2" lengthAdjust="spacingAndGlyphs" font-family='"Liberation Sans", sans-serif' font-size="9.4" fill="#000" stroke="#000" stroke-width="0.45">Cell Count [x 100,000]</text>
<text x="304" y="263.5" font-family='"Liberation Sans", sans-serif' font-size="12.4" fill="#000" stroke="#000" stroke-width="0.3">D</text>
<text x="304.8" y="329" textLength="37.7" lengthAdjust="spacingAndGlyphs" font-family='"Liberation Serif", serif' font-size="11.8" fill="#000" stroke="#000" stroke-width="0.55" stroke-linejoin="round">I83CLL</text>
<polyline points="301.5,441.48 352.77,426.56 404.05,376.83 455.33,337.05 506.6,314.67" fill="none" stroke="#111" stroke-width="1.0"/>
<polyline points="301.5,441.48 352.77,424.69 404.05,389.88 455.33,326.79 506.6,323.99" fill="none" stroke="#111" stroke-width="1.0"/>
<polyline points="301.5,441.48 352.77,421.9 404.05,394.86 455.33,340.78 506.6,321.51" fill="none" stroke="#111" stroke-width="1.0"/>
<polyline points="301.5,441.48 352.77,424.07 404.05,391.75 455.33,333.94 506.6,300.68" fill="none" stroke="#111" stroke-width="1.0"/>
<path d="M352.77 423.76V429.35M349.57 423.76H355.97M349.57 429.35H355.97" fill="none" stroke="#222" stroke-width="0.85"/>
<path d="M404.05 368.13V385.53M400.85 368.13H407.25M400.85 385.53H407.25" fill="none" stroke="#222" stroke-width="0.85"/>
<path d="M455.33 322.75V351.34M452.13 322.75H458.53M452.13 351.34H458.53" fill="none" stroke="#222" stroke-width="0.85"/>
<path d="M506.6 285.14V344.2M503.4 285.14H509.8M503.4 344.2H509.8" fill="none" stroke="#222" stroke-width="0.85"/>
<path d="M352.77 422.21V427.18M349.57 422.21H355.97M349.57 427.18H355.97" fill="none" stroke="#222" stroke-width="0.85"/>
<path d="M404.05 383.67V396.1M400.85 383.67H407.25M400.85 396.1H407.25" fill="none" stroke="#222" stroke-width="0.85"/>
<path d="M455.33 315.6V337.98M452.13 315.6H458.53M452.13 337.98H458.53" fill="none" stroke="#222" stroke-width="0.85"/>
<path d="M506.6 304.1V343.88M503.4 304.1H509.8M503.4 343.88H509.8" fill="none" stroke="#222" stroke-width="0.85"/>
<path d="M352.77 419.41V424.38M349.57 419.41H355.97M349.57 424.38H355.97" fill="none" stroke="#222" stroke-width="0.85"/>
<path d="M404.05 388.33V401.38M400.85 388.33H407.25M400.85 401.38H407.25" fill="none" stroke="#222" stroke-width="0.85"/>
<path d="M455.33 330.21V351.34M452.13 330.21H458.53M452.13 351.34H458.53" fill="none" stroke="#222" stroke-width="0.85"/>
<path d="M506.6 287.01V356.01M503.4 287.01H509.8M503.4 356.01H509.8" fill="none" stroke="#222" stroke-width="0.85"/>
<path d="M352.77 422.21V425.94M349.57 422.21H355.97M349.57 425.94H355.97" fill="none" stroke="#222" stroke-width="0.85"/>
<path d="M404.05 385.53V397.96M400.85 385.53H407.25M400.85 397.96H407.25" fill="none" stroke="#222" stroke-width="0.85"/>
<path d="M455.33 323.06V344.82M452.13 323.06H458.53M452.13 344.82H458.53" fill="none" stroke="#222" stroke-width="0.85"/>
<path d="M506.6 295.4V305.97M503.4 295.4H509.8M503.4 305.97H509.8" fill="none" stroke="#222" stroke-width="0.85"/>
<rect x="299.1" y="439.08" width="4.8" height="4.8" fill="#fff" stroke="#000" stroke-width="1.35"/>
<rect x="350.38" y="424.16" width="4.8" height="4.8" fill="#fff" stroke="#000" stroke-width="1.35"/>
<rect x="401.65" y="374.43" width="4.8" height="4.8" fill="#fff" stroke="#000" stroke-width="1.35"/>
<rect x="452.93" y="334.65" width="4.8" height="4.8" fill="#fff" stroke="#000" stroke-width="1.35"/>
<rect x="504.2" y="312.27" width="4.8" height="4.8" fill="#fff" stroke="#000" stroke-width="1.35"/>
<polygon points="301.5,438.48 304.5,443.38 298.5,443.38" fill="#fff" stroke="#000" stroke-width="1.35"/>
<polygon points="352.77,421.69 355.77,426.59 349.77,426.59" fill="#fff" stroke="#000" stroke-width="1.35"/>
<polygon points="404.05,386.88 407.05,391.78 401.05,391.78" fill="#fff" stroke="#000" stroke-width="1.35"/>
<polygon points="455.33,323.79 458.33,328.69 452.33,328.69" fill="#fff" stroke="#000" stroke-width="1.35"/>
<polygon points="506.6,320.99 509.6,325.89 503.6,325.89" fill="#fff" stroke="#000" stroke-width="1.35"/>
<circle cx="301.5" cy="441.48" r="2.6" fill="#fff" stroke="#000" stroke-width="1.35"/>
<circle cx="352.77" cy="421.9" r="2.6" fill="#fff" stroke="#000" stroke-width="1.35"/>
<circle cx="404.05" cy="394.86" r="2.6" fill="#fff" stroke="#000" stroke-width="1.35"/>
<circle cx="455.33" cy="340.78" r="2.6" fill="#fff" stroke="#000" stroke-width="1.35"/>
<circle cx="506.6" cy="321.51" r="2.6" fill="#fff" stroke="#000" stroke-width="1.35"/>
<polygon points="301.5,438.48 304.9,441.48 301.5,444.48 298.1,441.48" fill="#fff" stroke="#000" stroke-width="1.35"/>
<polygon points="352.77,421.07 356.17,424.07 352.77,427.07 349.38,424.07" fill="#fff" stroke="#000" stroke-width="1.35"/>
<polygon points="404.05,388.75 407.45,391.75 404.05,394.75 400.65,391.75" fill="#fff" stroke="#000" stroke-width="1.35"/>
<polygon points="455.33,330.94 458.73,333.94 455.33,336.94 451.93,333.94" fill="#fff" stroke="#000" stroke-width="1.35"/>
<polygon points="506.6,297.68 510,300.68 506.6,303.68 503.2,300.68" fill="#fff" stroke="#000" stroke-width="1.35"/>
<rect x="361.5" y="266.6" width="70" height="53.1" fill="#fff" stroke="#000" stroke-width="1.4"/>
<path d="M369.4 276.2H373.1M380.9 276.2H384.8" stroke="#222" stroke-width="0.9" fill="none"/>
<rect x="374.6" y="273.8" width="4.8" height="4.8" fill="#fff" stroke="#000" stroke-width="1.35"/>
<text x="387.1" y="278.65" textLength="35.2" lengthAdjust="spacingAndGlyphs" font-family='"Liberation Sans", sans-serif' font-size="6.8" font-weight="bold" fill="#000" stroke="#000" stroke-width="0.15">NaOH CTRL</text>
<path d="M369.4 285.4H373.1M380.9 285.4H384.8" stroke="#222" stroke-width="0.9" fill="none"/>
<polygon points="377,282.4 380,287.3 374,287.3" fill="#fff" stroke="#000" stroke-width="1.35"/>
<text x="387.1" y="287.85" textLength="36.8" lengthAdjust="spacingAndGlyphs" font-family='"Liberation Sans", sans-serif' font-size="6.8" font-weight="bold" fill="#000" stroke="#000" stroke-width="0.15">As<tspan font-size="5.3" dy="2.04">2</tspan><tspan dy="-2.04">O</tspan><tspan font-size="5.3" dy="2.04">3</tspan><tspan dy="-2.04"> 10</tspan><tspan font-size="5.3" dy="-2.72">-9</tspan><tspan dy="2.72"> M</tspan></text>
<path d="M369.4 296.9H373.1M380.9 296.9H384.8" stroke="#222" stroke-width="0.9" fill="none"/>
<circle cx="377" cy="296.9" r="2.6" fill="#fff" stroke="#000" stroke-width="1.35"/>
<text x="387.1" y="299.35" textLength="36.8" lengthAdjust="spacingAndGlyphs" font-family='"Liberation Sans", sans-serif' font-size="6.8" font-weight="bold" fill="#000" stroke="#000" stroke-width="0.15">As<tspan font-size="5.3" dy="2.04">2</tspan><tspan dy="-2.04">O</tspan><tspan font-size="5.3" dy="2.04">3</tspan><tspan dy="-2.04"> 10</tspan><tspan font-size="5.3" dy="-2.72">-8</tspan><tspan dy="2.72"> M</tspan></text>
<path d="M369.4 309.2H373.1M380.9 309.2H384.8" stroke="#222" stroke-width="0.9" fill="none"/>
<polygon points="377,306.2 380.4,309.2 377,312.2 373.6,309.2" fill="#fff" stroke="#000" stroke-width="1.35"/>
<text x="387.1" y="311.65" textLength="36.8" lengthAdjust="spacingAndGlyphs" font-family='"Liberation Sans", sans-serif' font-size="6.8" font-weight="bold" fill="#000" stroke="#000" stroke-width="0.15">As<tspan font-size="5.3" dy="2.04">2</tspan><tspan dy="-2.04">O</tspan><tspan font-size="5.3" dy="2.04">3</tspan><tspan dy="-2.04"> 10</tspan><tspan font-size="5.3" dy="-2.72">-7</tspan><tspan dy="2.72"> M</tspan></text>
</g>
<g transform="rotate(0.22 136.8 604.65)">
<rect x="30.2" y="511" width="213.2" height="187.3" fill="none" stroke="#000" stroke-width="1.3"/>
<line x1="30.1" y1="698.3" x2="30.1" y2="702.1" stroke="#000" stroke-width="1.1"/>
<text x="30.1" y="709.2" text-anchor="middle" font-family='"Liberation Sans", sans-serif' font-size="7.4" font-weight="bold" fill="#000" stroke="#000" stroke-width="0.25">0</text>
<line x1="55.64" y1="698.3" x2="55.64" y2="700.5" stroke="#000" stroke-width="1.1"/>
<line x1="81.18" y1="698.3" x2="81.18" y2="702.1" stroke="#000" stroke-width="1.1"/>
<text x="81.18" y="709.2" text-anchor="middle" font-family='"Liberation Sans", sans-serif' font-size="7.4" font-weight="bold" fill="#000" stroke="#000" stroke-width="0.25">24</text>
<line x1="106.71" y1="698.3" x2="106.71" y2="700.5" stroke="#000" stroke-width="1.1"/>
<line x1="132.25" y1="698.3" x2="132.25" y2="702.1" stroke="#000" stroke-width="1.1"/>
<text x="132.25" y="709.2" text-anchor="middle" font-family='"Liberation Sans", sans-serif' font-size="7.4" font-weight="bold" fill="#000" stroke="#000" stroke-width="0.25">48</text>
<line x1="157.79" y1="698.3" x2="157.79" y2="700.5" stroke="#000" stroke-width="1.1"/>
<line x1="183.33" y1="698.3" x2="183.33" y2="702.1" stroke="#000" stroke-width="1.1"/>
<text x="183.33" y="709.2" text-anchor="middle" font-family='"Liberation Sans", sans-serif' font-size="7.4" font-weight="bold" fill="#000" stroke="#000" stroke-width="0.25">72</text>
<line x1="208.86" y1="698.3" x2="208.86" y2="700.5" stroke="#000" stroke-width="1.1"/>
<line x1="234.4" y1="698.3" x2="234.4" y2="702.1" stroke="#000" stroke-width="1.1"/>
<text x="234.4" y="709.2" text-anchor="middle" font-family='"Liberation Sans", sans-serif' font-size="7.4" font-weight="bold" fill="#000" stroke="#000" stroke-width="0.25">96</text>
<line x1="26.4" y1="698" x2="30.2" y2="698" stroke="#000" stroke-width="1.1"/>
<text x="24.7" y="700.25" text-anchor="end" font-family='"Liberation Sans", sans-serif' font-size="7.4" font-weight="bold" fill="#000" stroke="#000" stroke-width="0.25">0</text>
<line x1="28" y1="675.66" x2="30.2" y2="675.66" stroke="#000" stroke-width="1.1"/>
<line x1="26.4" y1="653.33" x2="30.2" y2="653.33" stroke="#000" stroke-width="1.1"/>
<text x="24.7" y="655.58" text-anchor="end" font-family='"Liberation Sans", sans-serif' font-size="7.4" font-weight="bold" fill="#000" stroke="#000" stroke-width="0.25">25</text>
<line x1="28" y1="630.99" x2="30.2" y2="630.99" stroke="#000" stroke-width="1.1"/>
<line x1="26.4" y1="608.65" x2="30.2" y2="608.65" stroke="#000" stroke-width="1.1"/>
<text x="24.7" y="610.9" text-anchor="end" font-family='"Liberation Sans", sans-serif' font-size="7.4" font-weight="bold" fill="#000" stroke="#000" stroke-width="0.25">50</text>
<line x1="28" y1="586.31" x2="30.2" y2="586.31" stroke="#000" stroke-width="1.1"/>
<line x1="26.4" y1="563.98" x2="30.2" y2="563.98" stroke="#000" stroke-width="1.1"/>
<text x="24.7" y="566.23" text-anchor="end" font-family='"Liberation Sans", sans-serif' font-size="7.4" font-weight="bold" fill="#000" stroke="#000" stroke-width="0.25">75</text>
<line x1="28" y1="541.64" x2="30.2" y2="541.64" stroke="#000" stroke-width="1.1"/>
<line x1="26.4" y1="519.3" x2="30.2" y2="519.3" stroke="#000" stroke-width="1.1"/>
<text x="24.7" y="521.55" text-anchor="end" font-family='"Liberation Sans", sans-serif' font-size="7.4" font-weight="bold" fill="#000" stroke="#000" stroke-width="0.25">100</text>
<text x="107.3" y="718.2" textLength="66.9" lengthAdjust="spacingAndGlyphs" font-family='"Liberation Sans", sans-serif' font-size="9.4" fill="#000" stroke="#000" stroke-width="0.45">Time Course [h]</text>
<text transform="translate(11.2,646.2) rotate(-90)" textLength="73.6" lengthAdjust="spacingAndGlyphs" font-family='"Liberation Sans", sans-serif' font-size="9.4" fill="#000" stroke="#000" stroke-width="0.45">Mean Viability [%]</text>
<text x="30" y="508.5" font-family='"Liberation Sans", sans-serif' font-size="12.4" fill="#000" stroke="#000" stroke-width="0.3">E</text>
<text x="210.3" y="581.8" textLength="30.8" lengthAdjust="spacingAndGlyphs" font-family='"Liberation Serif", serif' font-size="11.8" fill="#000" stroke="#000" stroke-width="0.55" stroke-linejoin="round">JVM-2</text>
<polyline points="30.1,545.75 81.18,532.7 132.25,522.87 183.33,530.92 234.4,527.34" fill="none" stroke="#707070" stroke-width="0.75" stroke-dasharray="1.1 1.2"/>
<polyline points="30.1,545.75 81.18,530.92 132.25,529.13 183.33,527.34 234.4,531.81" fill="none" stroke="#707070" stroke-width="0.75" stroke-dasharray="1.1 1.2"/>
<polyline points="30.1,545.75 81.18,531.81 132.25,524.66 183.33,534.49 234.4,529.49" fill="none" stroke="#707070" stroke-width="0.75" stroke-dasharray="1.1 1.2"/>
<polyline points="30.1,545.75 81.18,532.17 132.25,525.55 183.33,539.85 234.4,530.92" fill="none" stroke="#707070" stroke-width="0.75" stroke-dasharray="1.1 1.2"/>
<path d="M81.18 521.09V544.32M77.98 521.09H84.38M77.98 544.32H84.38" fill="none" stroke="#222" stroke-width="0.85"/>
<path d="M132.25 520.19V525.55M129.05 520.19H135.45M129.05 525.55H135.45" fill="none" stroke="#222" stroke-width="0.85"/>
<path d="M183.33 527.34V534.49M180.13 527.34H186.53M180.13 534.49H186.53" fill="none" stroke="#222" stroke-width="0.85"/>
<path d="M234.4 524.66V530.02M231.2 524.66H237.6M231.2 530.02H237.6" fill="none" stroke="#222" stroke-width="0.85"/>
<path d="M81.18 526.45V535.38M77.98 526.45H84.38M77.98 535.38H84.38" fill="none" stroke="#222" stroke-width="0.85"/>
<path d="M132.25 522.34V535.92M129.05 522.34H135.45M129.05 535.92H135.45" fill="none" stroke="#222" stroke-width="0.85"/>
<path d="M183.33 524.66V530.02M180.13 524.66H186.53M180.13 530.02H186.53" fill="none" stroke="#222" stroke-width="0.85"/>
<path d="M234.4 529.13V534.49M231.2 529.13H237.6M231.2 534.49H237.6" fill="none" stroke="#222" stroke-width="0.85"/>
<path d="M81.18 528.24V535.38M77.98 528.24H84.38M77.98 535.38H84.38" fill="none" stroke="#222" stroke-width="0.85"/>
<path d="M132.25 521.98V527.34M129.05 521.98H135.45M129.05 527.34H135.45" fill="none" stroke="#222" stroke-width="0.85"/>
<path d="M183.33 530.92V538.06M180.13 530.92H186.53M180.13 538.06H186.53" fill="none" stroke="#222" stroke-width="0.85"/>
<path d="M234.4 526.81V532.17M231.2 526.81H237.6M231.2 532.17H237.6" fill="none" stroke="#222" stroke-width="0.85"/>
<path d="M81.18 528.59V535.74M77.98 528.59H84.38M77.98 535.74H84.38" fill="none" stroke="#222" stroke-width="0.85"/>
<path d="M132.25 522.87V528.24M129.05 522.87H135.45M129.05 528.24H135.45" fill="none" stroke="#222" stroke-width="0.85"/>
<path d="M183.33 537.17V542.53M180.13 537.17H186.53M180.13 542.53H186.53" fill="none" stroke="#222" stroke-width="0.85"/>
<path d="M234.4 526.45V535.38M231.2 526.45H237.6M231.2 535.38H237.6" fill="none" stroke="#222" stroke-width="0.85"/>
<rect x="27.1" y="542.75" width="6" height="6" fill="#000" stroke="#000" stroke-width="0"/>
<rect x="78.18" y="529.7" width="6" height="6" fill="#000" stroke="#000" stroke-width="0"/>
<rect x="129.25" y="519.87" width="6" height="6" fill="#000" stroke="#000" stroke-width="0"/>
<rect x="180.33" y="527.92" width="6" height="6" fill="#000" stroke="#000" stroke-width="0"/>
<rect x="231.4" y="524.34" width="6" height="6" fill="#000" stroke="#000" stroke-width="0"/>
<polygon points="30.1,542.45 33.7,548.05 26.5,548.05" fill="#000" stroke="#000" stroke-width="0"/>
<polygon points="81.18,527.62 84.78,533.22 77.58,533.22" fill="#000" stroke="#000" stroke-width="0"/>
<polygon points="132.25,525.83 135.85,531.43 128.65,531.43" fill="#000" stroke="#000" stroke-width="0"/>
<polygon points="183.33,524.04 186.93,529.64 179.73,529.64" fill="#000" stroke="#000" stroke-width="0"/>
<polygon points="234.4,528.51 238,534.11 230.8,534.11" fill="#000" stroke="#000" stroke-width="0"/>
<circle cx="30.1" cy="545.75" r="3.1" fill="#000" stroke="#000" stroke-width="0"/>
<circle cx="81.18" cy="531.81" r="3.1" fill="#000" stroke="#000" stroke-width="0"/>
<circle cx="132.25" cy="524.66" r="3.1" fill="#000" stroke="#000" stroke-width="0"/>
<circle cx="183.33" cy="534.49" r="3.1" fill="#000" stroke="#000" stroke-width="0"/>
<circle cx="234.4" cy="529.49" r="3.1" fill="#000" stroke="#000" stroke-width="0"/>
<polygon points="30.1,542.15 34,545.75 30.1,549.35 26.2,545.75" fill="#000" stroke="#000" stroke-width="0"/>
<polygon points="81.18,528.57 85.08,532.17 81.18,535.77 77.28,532.17" fill="#000" stroke="#000" stroke-width="0"/>
<polygon points="132.25,521.95 136.15,525.55 132.25,529.15 128.35,525.55" fill="#000" stroke="#000" stroke-width="0"/>
<polygon points="183.33,536.25 187.23,539.85 183.33,543.45 179.43,539.85" fill="#000" stroke="#000" stroke-width="0"/>
<polygon points="234.4,527.32 238.3,530.92 234.4,534.52 230.5,530.92" fill="#000" stroke="#000" stroke-width="0"/>
<rect x="35.3" y="641.3" width="69.2" height="53.6" fill="#000"/>
<rect x="34.6" y="640.6" width="69.2" height="53.6" fill="#fff" stroke="#000" stroke-width="1.3"/>
<line x1="40.5" y1="654" x2="56" y2="654" stroke="#999" stroke-width="0.8" stroke-dasharray="1.6 1"/>
<rect x="45.5" y="651" width="6" height="6" fill="#000" stroke="#000" stroke-width="0"/>
<text x="59" y="656.45" textLength="34.9" lengthAdjust="spacingAndGlyphs" font-family='"Liberation Sans", sans-serif' font-size="6.8" font-weight="bold" fill="#000" stroke="#000" stroke-width="0.15">NaOH CTRL</text>
<line x1="40.5" y1="663.2" x2="56" y2="663.2" stroke="#999" stroke-width="0.8" stroke-dasharray="1.6 1"/>
<polygon points="48.5,659.9 52.1,665.5 44.9,665.5" fill="#000" stroke="#000" stroke-width="0"/>
<text x="59" y="665.65" textLength="36.5" lengthAdjust="spacingAndGlyphs" font-family='"Liberation Sans", sans-serif' font-size="6.8" font-weight="bold" fill="#000" stroke="#000" stroke-width="0.15">As<tspan font-size="5.3" dy="2.04">2</tspan><tspan dy="-2.04">O</tspan><tspan font-size="5.3" dy="2.04">3</tspan><tspan dy="-2.04"> 10</tspan><tspan font-size="5.3" dy="-2.72">-9</tspan><tspan dy="2.72"> M</tspan></text>
<line x1="40.5" y1="675.2" x2="56" y2="675.2" stroke="#999" stroke-width="0.8" stroke-dasharray="1.6 1"/>
<circle cx="48.5" cy="675.2" r="3.1" fill="#000" stroke="#000" stroke-width="0"/>
<text x="59" y="677.65" textLength="36.5" lengthAdjust="spacingAndGlyphs" font-family='"Liberation Sans", sans-serif' font-size="6.8" font-weight="bold" fill="#000" stroke="#000" stroke-width="0.15">As<tspan font-size="5.3" dy="2.04">2</tspan><tspan dy="-2.04">O</tspan><tspan font-size="5.3" dy="2.04">3</tspan><tspan dy="-2.04"> 10</tspan><tspan font-size="5.3" dy="-2.72">-8</tspan><tspan dy="2.72"> M</tspan></text>
<line x1="40.5" y1="687.1" x2="56" y2="687.1" stroke="#999" stroke-width="0.8" stroke-dasharray="1.6 1"/>
<polygon points="48.5,683.5 52.4,687.1 48.5,690.7 44.6,687.1" fill="#000" stroke="#000" stroke-width="0"/>
<text x="59" y="689.55" textLength="36.5" lengthAdjust="spacingAndGlyphs" font-family='"Liberation Sans", sans-serif' font-size="6.8" font-weight="bold" fill="#000" stroke="#000" stroke-width="0.15">As<tspan font-size="5.3" dy="2.04">2</tspan><tspan dy="-2.04">O</tspan><tspan font-size="5.3" dy="2.04">3</tspan><tspan dy="-2.04"> 10</tspan><tspan font-size="5.3" dy="-2.72">-7</tspan><tspan dy="2.72"> M</tspan></text>
</g>
<g transform="rotate(0.08 407.8 605.55)">
<rect x="300.8" y="511.7" width="214" height="187.7" fill="none" stroke="#000" stroke-width="1.3"/>
<line x1="300.7" y1="699.4" x2="300.7" y2="703.2" stroke="#000" stroke-width="1.1"/>
<text x="300.7" y="710.3" text-anchor="middle" font-family='"Liberation Sans", sans-serif' font-size="7.4" font-weight="bold" fill="#000" stroke="#000" stroke-width="0.25">0</text>
<line x1="326.36" y1="699.4" x2="326.36" y2="701.6" stroke="#000" stroke-width="1.1"/>
<line x1="352.02" y1="699.4" x2="352.02" y2="703.2" stroke="#000" stroke-width="1.1"/>
<text x="352.02" y="710.3" text-anchor="middle" font-family='"Liberation Sans", sans-serif' font-size="7.4" font-weight="bold" fill="#000" stroke="#000" stroke-width="0.25">24</text>
<line x1="377.69" y1="699.4" x2="377.69" y2="701.6" stroke="#000" stroke-width="1.1"/>
<line x1="403.35" y1="699.4" x2="403.35" y2="703.2" stroke="#000" stroke-width="1.1"/>
<text x="403.35" y="710.3" text-anchor="middle" font-family='"Liberation Sans", sans-serif' font-size="7.4" font-weight="bold" fill="#000" stroke="#000" stroke-width="0.25">48</text>
<line x1="429.01" y1="699.4" x2="429.01" y2="701.6" stroke="#000" stroke-width="1.1"/>
<line x1="454.68" y1="699.4" x2="454.68" y2="703.2" stroke="#000" stroke-width="1.1"/>
<text x="454.68" y="710.3" text-anchor="middle" font-family='"Liberation Sans", sans-serif' font-size="7.4" font-weight="bold" fill="#000" stroke="#000" stroke-width="0.25">72</text>
<line x1="480.34" y1="699.4" x2="480.34" y2="701.6" stroke="#000" stroke-width="1.1"/>
<line x1="506" y1="699.4" x2="506" y2="703.2" stroke="#000" stroke-width="1.1"/>
<text x="506" y="710.3" text-anchor="middle" font-family='"Liberation Sans", sans-serif' font-size="7.4" font-weight="bold" fill="#000" stroke="#000" stroke-width="0.25">96</text>
<line x1="297" y1="699.3" x2="300.8" y2="699.3" stroke="#000" stroke-width="1.1"/>
<text x="295.3" y="701.55" text-anchor="end" font-family='"Liberation Sans", sans-serif' font-size="7.4" font-weight="bold" fill="#000" stroke="#000" stroke-width="0.25">0</text>
<line x1="298.6" y1="687.57" x2="300.8" y2="687.57" stroke="#000" stroke-width="1.1"/>
<line x1="297" y1="675.84" x2="300.8" y2="675.84" stroke="#000" stroke-width="1.1"/>
<text x="295.3" y="678.09" text-anchor="end" font-family='"Liberation Sans", sans-serif' font-size="7.4" font-weight="bold" fill="#000" stroke="#000" stroke-width="0.25">4</text>
<line x1="298.6" y1="664.1" x2="300.8" y2="664.1" stroke="#000" stroke-width="1.1"/>
<line x1="297" y1="652.37" x2="300.8" y2="652.37" stroke="#000" stroke-width="1.1"/>
<text x="295.3" y="654.62" text-anchor="end" font-family='"Liberation Sans", sans-serif' font-size="7.4" font-weight="bold" fill="#000" stroke="#000" stroke-width="0.25">8</text>
<line x1="298.6" y1="640.64" x2="300.8" y2="640.64" stroke="#000" stroke-width="1.1"/>
<line x1="297" y1="628.91" x2="300.8" y2="628.91" stroke="#000" stroke-width="1.1"/>
<text x="295.3" y="631.16" text-anchor="end" font-family='"Liberation Sans", sans-serif' font-size="7.4" font-weight="bold" fill="#000" stroke="#000" stroke-width="0.25">12</text>
<line x1="298.6" y1="617.18" x2="300.8" y2="617.18" stroke="#000" stroke-width="1.1"/>
<line x1="297" y1="605.44" x2="300.8" y2="605.44" stroke="#000" stroke-width="1.1"/>
<text x="295.3" y="607.69" text-anchor="end" font-family='"Liberation Sans", sans-serif' font-size="7.4" font-weight="bold" fill="#000" stroke="#000" stroke-width="0.25">16</text>
<line x1="298.6" y1="593.71" x2="300.8" y2="593.71" stroke="#000" stroke-width="1.1"/>
<line x1="297" y1="581.98" x2="300.8" y2="581.98" stroke="#000" stroke-width="1.1"/>
<text x="295.3" y="584.23" text-anchor="end" font-family='"Liberation Sans", sans-serif' font-size="7.4" font-weight="bold" fill="#000" stroke="#000" stroke-width="0.25">20</text>
<line x1="298.6" y1="570.25" x2="300.8" y2="570.25" stroke="#000" stroke-width="1.1"/>
<line x1="297" y1="558.52" x2="300.8" y2="558.52" stroke="#000" stroke-width="1.1"/>
<text x="295.3" y="560.77" text-anchor="end" font-family='"Liberation Sans", sans-serif' font-size="7.4" font-weight="bold" fill="#000" stroke="#000" stroke-width="0.25">24</text>
<line x1="298.6" y1="546.78" x2="300.8" y2="546.78" stroke="#000" stroke-width="1.1"/>
<line x1="297" y1="535.05" x2="300.8" y2="535.05" stroke="#000" stroke-width="1.1"/>
<text x="295.3" y="537.3" text-anchor="end" font-family='"Liberation Sans", sans-serif' font-size="7.4" font-weight="bold" fill="#000" stroke="#000" stroke-width="0.25">28</text>
<line x1="298.6" y1="523.32" x2="300.8" y2="523.32" stroke="#000" stroke-width="1.1"/>
<line x1="297" y1="511.59" x2="300.8" y2="511.59" stroke="#000" stroke-width="1.1"/>
<text x="295.3" y="513.84" text-anchor="end" font-family='"Liberation Sans", sans-serif' font-size="7.4" font-weight="bold" fill="#000" stroke="#000" stroke-width="0.25">32</text>
<text x="378.3" y="718.8" textLength="67.1" lengthAdjust="spacingAndGlyphs" font-family='"Liberation Sans", sans-serif' font-size="9.4" fill="#000" stroke="#000" stroke-width="0.45">Time Course [h]</text>
<text transform="translate(284.6,663.1) rotate(-90)" textLength="91.7" lengthAdjust="spacingAndGlyphs" font-family='"Liberation Sans", sans-serif' font-size="9.4" fill="#000" stroke="#000" stroke-width="0.45">Cell Count [x 100,000]</text>
<text x="302.7" y="510.5" font-family='"Liberation Sans", sans-serif' font-size="12.4" fill="#000" stroke="#000" stroke-width="0.3">F</text>
<text x="303.9" y="582.6" textLength="30.8" lengthAdjust="spacingAndGlyphs" font-family='"Liberation Serif", serif' font-size="11.8" fill="#000" stroke="#000" stroke-width="0.55" stroke-linejoin="round">JVM-2</text>
<polyline points="300.7,687.57 352.02,677.6 403.35,660.58 454.68,641.81 506,569.66" fill="none" stroke="#111" stroke-width="1.0"/>
<polyline points="300.7,687.57 352.02,677.01 403.35,658.24 454.68,634.19 506,566.73" fill="none" stroke="#111" stroke-width="1.0"/>
<polyline points="300.7,687.57 352.02,678.18 403.35,655.3 454.68,645.04 506,548.54" fill="none" stroke="#111" stroke-width="1.0"/>
<polyline points="300.7,687.57 352.02,677.01 403.35,653.84 454.68,631.84 506,545.61" fill="none" stroke="#111" stroke-width="1.0"/>
<path d="M352.02 672.9V682.29M348.82 672.9H355.22M348.82 682.29H355.22" fill="none" stroke="#222" stroke-width="0.85"/>
<path d="M403.35 653.55V667.62M400.15 653.55H406.55M400.15 667.62H406.55" fill="none" stroke="#222" stroke-width="0.85"/>
<path d="M454.68 636.53V647.09M451.48 636.53H457.88M451.48 647.09H457.88" fill="none" stroke="#222" stroke-width="0.85"/>
<path d="M506 560.28V579.05M502.8 560.28H509.2M502.8 579.05H509.2" fill="none" stroke="#222" stroke-width="0.85"/>
<path d="M352.02 674.08V679.94M348.82 674.08H355.22M348.82 679.94H355.22" fill="none" stroke="#222" stroke-width="0.85"/>
<path d="M403.35 653.55V662.93M400.15 653.55H406.55M400.15 662.93H406.55" fill="none" stroke="#222" stroke-width="0.85"/>
<path d="M454.68 625.97V642.4M451.48 625.97H457.88M451.48 642.4H457.88" fill="none" stroke="#222" stroke-width="0.85"/>
<path d="M506 559.69V573.77M502.8 559.69H509.2M502.8 573.77H509.2" fill="none" stroke="#222" stroke-width="0.85"/>
<path d="M352.02 672.9V683.46M348.82 672.9H355.22M348.82 683.46H355.22" fill="none" stroke="#222" stroke-width="0.85"/>
<path d="M403.35 650.61V660M400.15 650.61H406.55M400.15 660H406.55" fill="none" stroke="#222" stroke-width="0.85"/>
<path d="M454.68 638.29V651.79M451.48 638.29H457.88M451.48 651.79H457.88" fill="none" stroke="#222" stroke-width="0.85"/>
<path d="M506 539.74V557.34M502.8 539.74H509.2M502.8 557.34H509.2" fill="none" stroke="#222" stroke-width="0.85"/>
<path d="M352.02 673.49V680.53M348.82 673.49H355.22M348.82 680.53H355.22" fill="none" stroke="#222" stroke-width="0.85"/>
<path d="M403.35 648.56V659.12M400.15 648.56H406.55M400.15 659.12H406.55" fill="none" stroke="#222" stroke-width="0.85"/>
<path d="M454.68 621.28V642.4M451.48 621.28H457.88M451.48 642.4H457.88" fill="none" stroke="#222" stroke-width="0.85"/>
<path d="M506 525.08V566.14M502.8 525.08H509.2M502.8 566.14H509.2" fill="none" stroke="#222" stroke-width="0.85"/>
<rect x="298.3" y="685.17" width="4.8" height="4.8" fill="#fff" stroke="#000" stroke-width="1.35"/>
<rect x="349.62" y="675.2" width="4.8" height="4.8" fill="#fff" stroke="#000" stroke-width="1.35"/>
<rect x="400.95" y="658.18" width="4.8" height="4.8" fill="#fff" stroke="#000" stroke-width="1.35"/>
<rect x="452.28" y="639.41" width="4.8" height="4.8" fill="#fff" stroke="#000" stroke-width="1.35"/>
<rect x="503.6" y="567.26" width="4.8" height="4.8" fill="#fff" stroke="#000" stroke-width="1.35"/>
<polygon points="300.7,684.57 303.7,689.47 297.7,689.47" fill="#fff" stroke="#000" stroke-width="1.35"/>
<polygon points="352.02,674.01 355.02,678.91 349.02,678.91" fill="#fff" stroke="#000" stroke-width="1.35"/>
<polygon points="403.35,655.24 406.35,660.14 400.35,660.14" fill="#fff" stroke="#000" stroke-width="1.35"/>
<polygon points="454.68,631.19 457.68,636.09 451.68,636.09" fill="#fff" stroke="#000" stroke-width="1.35"/>
<polygon points="506,563.73 509,568.63 503,568.63" fill="#fff" stroke="#000" stroke-width="1.35"/>
<circle cx="300.7" cy="687.57" r="2.6" fill="#fff" stroke="#000" stroke-width="1.35"/>
<circle cx="352.02" cy="678.18" r="2.6" fill="#fff" stroke="#000" stroke-width="1.35"/>
<circle cx="403.35" cy="655.3" r="2.6" fill="#fff" stroke="#000" stroke-width="1.35"/>
<circle cx="454.68" cy="645.04" r="2.6" fill="#fff" stroke="#000" stroke-width="1.35"/>
<circle cx="506" cy="548.54" r="2.6" fill="#fff" stroke="#000" stroke-width="1.35"/>
<polygon points="300.7,684.57 304.1,687.57 300.7,690.57 297.3,687.57" fill="#fff" stroke="#000" stroke-width="1.35"/>
<polygon points="352.02,674.01 355.42,677.01 352.02,680.01 348.62,677.01" fill="#fff" stroke="#000" stroke-width="1.35"/>
<polygon points="403.35,650.84 406.75,653.84 403.35,656.84 399.95,653.84" fill="#fff" stroke="#000" stroke-width="1.35"/>
<polygon points="454.68,628.84 458.07,631.84 454.68,634.84 451.28,631.84" fill="#fff" stroke="#000" stroke-width="1.35"/>
<polygon points="506,542.61 509.4,545.61 506,548.61 502.6,545.61" fill="#fff" stroke="#000" stroke-width="1.35"/>
<rect x="366.9" y="514.2" width="69.6" height="52.7" fill="#fff" stroke="#000" stroke-width="1.4"/>
<path d="M375 523.4H378.7M386.5 523.4H390.4" stroke="#222" stroke-width="0.9" fill="none"/>
<rect x="380.2" y="521" width="4.8" height="4.8" fill="#fff" stroke="#000" stroke-width="1.35"/>
<text x="392.8" y="525.85" textLength="35.5" lengthAdjust="spacingAndGlyphs" font-family='"Liberation Sans", sans-serif' font-size="6.8" font-weight="bold" fill="#000" stroke="#000" stroke-width="0.15">NaOH CTRL</text>
<path d="M375 532.6H378.7M386.5 532.6H390.4" stroke="#222" stroke-width="0.9" fill="none"/>
<polygon points="382.6,529.6 385.6,534.5 379.6,534.5" fill="#fff" stroke="#000" stroke-width="1.35"/>
<text x="392.8" y="535.05" textLength="37.3" lengthAdjust="spacingAndGlyphs" font-family='"Liberation Sans", sans-serif' font-size="6.8" font-weight="bold" fill="#000" stroke="#000" stroke-width="0.15">As<tspan font-size="5.3" dy="2.04">2</tspan><tspan dy="-2.04">O</tspan><tspan font-size="5.3" dy="2.04">3</tspan><tspan dy="-2.04"> 10</tspan><tspan font-size="5.3" dy="-2.72">-9</tspan><tspan dy="2.72"> M</tspan></text>
<path d="M375 544.6H378.7M386.5 544.6H390.4" stroke="#222" stroke-width="0.9" fill="none"/>
<circle cx="382.6" cy="544.6" r="2.6" fill="#fff" stroke="#000" stroke-width="1.35"/>
<text x="392.8" y="547.05" textLength="37.3" lengthAdjust="spacingAndGlyphs" font-family='"Liberation Sans", sans-serif' font-size="6.8" font-weight="bold" fill="#000" stroke="#000" stroke-width="0.15">As<tspan font-size="5.3" dy="2.04">2</tspan><tspan dy="-2.04">O</tspan><tspan font-size="5.3" dy="2.04">3</tspan><tspan dy="-2.04"> 10</tspan><tspan font-size="5.3" dy="-2.72">-8</tspan><tspan dy="2.72"> M</tspan></text>
<path d="M375 556.8H378.7M386.5 556.8H390.4" stroke="#222" stroke-width="0.9" fill="none"/>
<polygon points="382.6,553.8 386,556.8 382.6,559.8 379.2,556.8" fill="#fff" stroke="#000" stroke-width="1.35"/>
<text x="392.8" y="559.25" textLength="37.3" lengthAdjust="spacingAndGlyphs" font-family='"Liberation Sans", sans-serif' font-size="6.8" font-weight="bold" fill="#000" stroke="#000" stroke-width="0.15">As<tspan font-size="5.3" dy="2.04">2</tspan><tspan dy="-2.04">O</tspan><tspan font-size="5.3" dy="2.04">3</tspan><tspan dy="-2.04"> 10</tspan><tspan font-size="5.3" dy="-2.72">-7</tspan><tspan dy="2.72"> M</tspan></text>
</g>
</svg>
</body>
</html>
